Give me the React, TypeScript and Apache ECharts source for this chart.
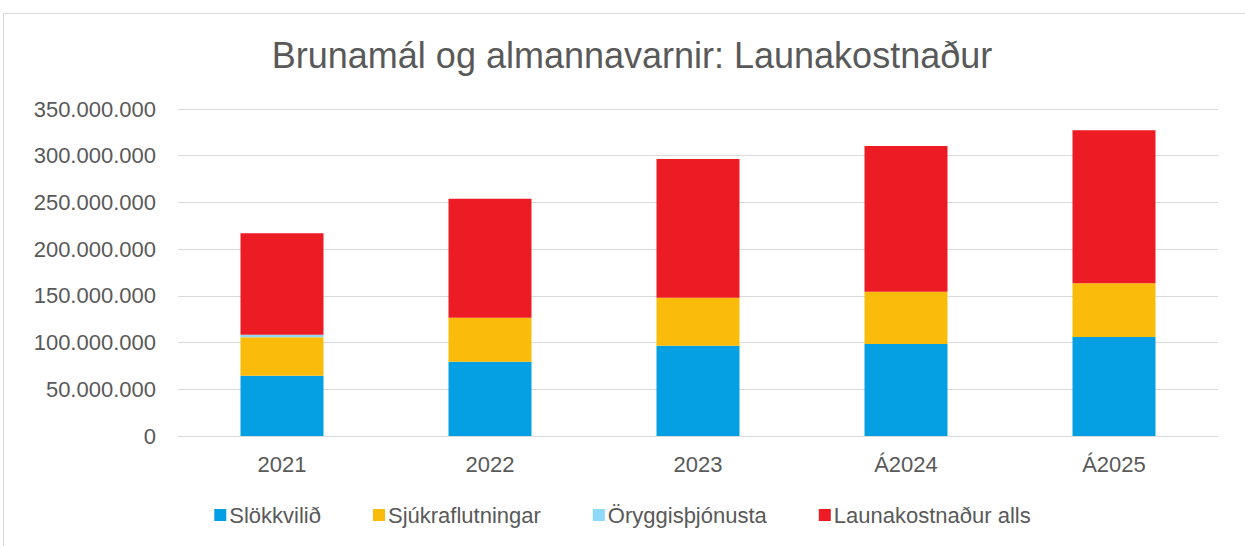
import React, { useEffect, useRef } from "react";
import * as echarts from "echarts";

const categories = ["2021", "2022", "2023", "Á2024", "Á2025"];
const slokkvilid = [64500000, 79500000, 96600000, 98500000, 106000000];
const sjukraflutningar = [41100000, 47100000, 51400000, 56000000, 57500000];
const oryggisthjonusta = [2900000, 0, 0, 0, 0];
const launakostnadurAlls = [108600000, 127400000, 148500000, 155900000, 163800000];
const yTicks = [0, 50000000, 100000000, 150000000, 200000000, 250000000, 300000000, 350000000];

const fmt = (v: number) => {
  if (v === 0) return "0";
  return String(Math.round(v)).replace(/\B(?=(\d{3})+(?!\d))/g, ".");
};

export default function App() {
  const ref = useRef<HTMLDivElement>(null);
  useEffect(() => {
    if (!ref.current) return;
    const chart = echarts.init(ref.current, undefined, { renderer: "svg" });
    const font = "Liberation Sans, Arial, sans-serif";
    const mk = (name: string, data: number[], color: string) => ({
      name,
      type: "bar",
      stack: "total",
      data,
      barWidth: 83,
      itemStyle: { color },
    });
    chart.setOption({
      animation: false,
      backgroundColor: "#ffffff",
      textStyle: { fontFamily: font },
      graphic: [
        {
          type: "rect",
          shape: { x: 3.5, y: 13.5, width: 1300, height: 600 },
          style: { fill: "none", stroke: "#d9d9d9", lineWidth: 1 },
          silent: true,
        },
      ],
      title: {
        text: "Brunamál og almannavarnir: Launakostnaður",
        left: 627,
        textAlign: "center",
        top: 32,
        textStyle: { fontFamily: font, fontSize: 36, fontWeight: "normal", color: "#595959" },
      },
      grid: { left: 178, right: 27, top: 109, bottom: 110, containLabel: false },
      legend: {
        bottom: 15,
        left: "center",
        itemWidth: 12,
        itemHeight: 12,
        itemGap: 52,
        icon: "rect",
        textStyle: { fontFamily: font, fontSize: 22, color: "#595959", padding: [0, 0, 0, -2] },
        data: ["Slökkvilið", "Sjúkraflutningar", "Öryggisþjónusta", "Launakostnaður alls"],
      },
      xAxis: {
        type: "category",
        data: categories,
        axisLine: { lineStyle: { color: "#d9d9d9", width: 1 } },
        axisTick: { show: false },
        axisLabel: { fontFamily: font, fontSize: 22, color: "#595959", margin: 17 },
      },
      yAxis: {
        type: "value",
        min: 0,
        max: 350000000,
        interval: 50000000,
        axisLine: { show: false },
        axisTick: { show: false },
        splitLine: { lineStyle: { color: "#d9d9d9", width: 1 } },
        axisLabel: {
          fontFamily: font,
          fontSize: 22,
          color: "#595959",
          margin: 22,
          formatter: (v: number) => (yTicks.includes(v) ? fmt(v) : ""),
        },
      },
      series: [
        mk("Slökkvilið", slokkvilid, "#05A0E3"),
        mk("Sjúkraflutningar", sjukraflutningar, "#FABB0B"),
        mk("Öryggisþjónusta", oryggisthjonusta, "#8ED8F8"),
        mk("Launakostnaður alls", launakostnadurAlls, "#ED1C24"),
      ],
    });
    return () => chart.dispose();
  }, []);
  return (
    <div
      ref={ref}
      style={{ position: "absolute", left: 0, top: 0, width: 1245, height: 546 }}
    />
  );
}
